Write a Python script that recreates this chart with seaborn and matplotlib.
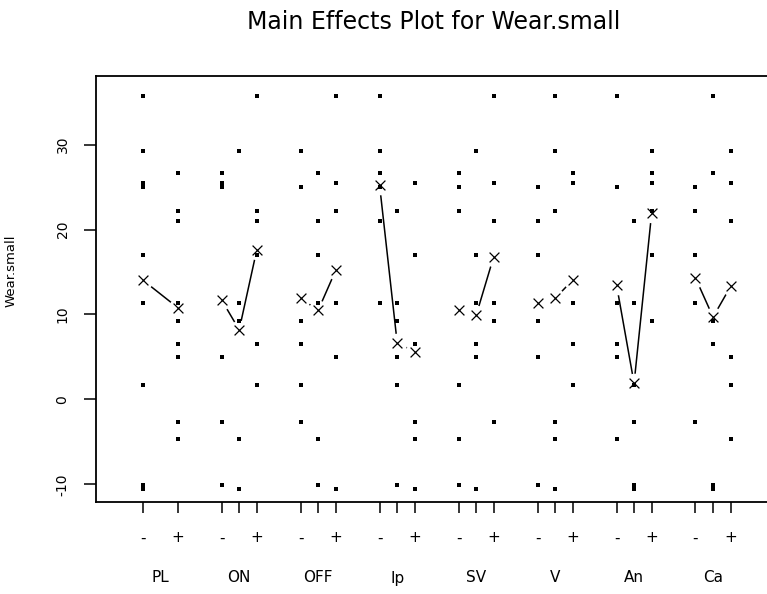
import numpy as np
import pandas as pd
import matplotlib
matplotlib.use("Agg")
import matplotlib.pyplot as plt
import seaborn as sns

# ---- data ----
factors = ["PL", "ON", "OFF", "Ip", "SV", "V", "An", "Ca"]
level_labels = ["-", "", "+"]

# 18 observed responses (Wear.small)
wear = [35.7, 29.2, 25.5, 25.0, 17.0, 11.3, 1.7, -10.1, -10.5,
        26.7, 22.2, 21.0, 11.3, 9.2, 6.5, 5.0, -2.7, -4.6]

# level code of each run for each factor (0 = "-", 1 = middle, 2 = "+")
PL  = [0, 0, 0, 0, 0, 0, 0, 0, 0, 2, 2, 2, 2, 2, 2, 2, 2, 2]
ON  = [2, 1, 0, 0, 2, 1, 2, 0, 1, 0, 2, 2, 1, 1, 2, 0, 0, 1]
OFF = [2, 0, 2, 0, 1, 1, 0, 1, 2, 1, 2, 1, 2, 0, 0, 2, 0, 1]
Ip  = [0, 0, 2, 0, 2, 0, 1, 1, 2, 0, 1, 0, 1, 1, 2, 1, 2, 2]
SV  = [2, 1, 2, 0, 1, 1, 0, 0, 1, 0, 0, 2, 2, 2, 1, 1, 2, 0]
V   = [1, 1, 2, 0, 0, 2, 2, 0, 1, 2, 1, 0, 2, 0, 2, 0, 1, 1]
An  = [0, 2, 2, 0, 2, 0, 1, 1, 1, 2, 2, 1, 1, 2, 0, 0, 1, 0]
Ca  = [1, 2, 2, 0, 0, 0, 2, 1, 1, 1, 0, 2, 0, 1, 1, 2, 0, 2]

# level means as plotted (x markers)
mean_PL  = [14.06, None, 10.8]
mean_ON  = [11.7, 8.2, 17.6]
mean_OFF = [11.9, 10.5, 15.2]
mean_Ip  = [25.2, 6.7, 5.6]
mean_SV  = [10.5, 9.9, 16.8]
mean_V   = [11.3, 11.9, 14.05]
mean_An  = [13.5, 1.9, 21.9]
mean_Ca  = [14.3, 9.7, 13.3]

design = dict(PL=PL, ON=ON, OFF=OFF, Ip=Ip, SV=SV, V=V, An=An, Ca=Ca)
means = dict(PL=mean_PL, ON=mean_ON, OFF=mean_OFF, Ip=mean_Ip,
             SV=mean_SV, V=mean_V, An=mean_An, Ca=mean_Ca)

GROUP_STEP = 4.5

rows, mrows, ticks = [], [], []
for g, f in enumerate(factors):
    for code, y in zip(design[f], wear):
        rows.append(dict(factor=f, pos=g * GROUP_STEP + code, wear=y))
    for code, m in enumerate(means[f]):
        if m is not None:
            mrows.append(dict(factor=f, pos=g * GROUP_STEP + code, mean=m))
            ticks.append((g * GROUP_STEP + code, level_labels[code]))
df = pd.DataFrame(rows)
mdf = pd.DataFrame(mrows)

# ---- figure ----
sns.set_style("white")
plt.rcParams["font.family"] = ["DejaVu Sans"]
plt.rcParams["text.color"] = "black"
plt.rcParams["axes.labelcolor"] = "black"
plt.rcParams["xtick.color"] = "black"
plt.rcParams["ytick.color"] = "black"

W, H = 767, 594
fig = plt.figure(figsize=(W / 100, H / 100), dpi=100)
ax = fig.add_axes([96 / W, 1 - 502 / H, (775 - 96) / W, (502 - 76) / H])

# lines between level means
sns.lineplot(data=mdf, x="pos", y="mean", units="factor", estimator=None,
             sort=False, color="black", lw=1.1, ax=ax, legend=False)
# white gap around mean points (type "b" look)
sns.scatterplot(data=mdf, x="pos", y="mean", marker="o", s=200,
                color="white", linewidth=0, ax=ax, legend=False, zorder=3)
# raw data dots
sns.scatterplot(data=df, x="pos", y="wear", marker="s", s=6,
                color="black", linewidth=0, ax=ax, legend=False, zorder=4)
# level means
sns.scatterplot(data=mdf, x="pos", y="mean", marker="x", s=50,
                color="black", linewidth=0.9, ax=ax, legend=False, zorder=5)

ax.set_xlim(-2.66, 36.03)
ax.set_ylim(-12.06, 38.06)

# y axis
ax.set_yticks([-10, 0, 10, 20, 30])
ax.set_yticklabels(["-10", "0", "10", "20", "30"], rotation=90, va="center",
                   color="black")
ax.tick_params(axis="y", direction="out", length=9, width=1.1, pad=10,
               labelsize=10, left=True, color="black", labelcolor="black")
ax.set_ylabel("Wear.small", fontsize=9.5, color="black")
ax.yaxis.set_label_coords(-(96 - 17.5) / (775 - 96), (502 - 271) / (502 - 76))

# x axis
ax.set_xticks([p for p, _ in ticks])
ax.set_xticklabels([""] * len(ticks))
ax.tick_params(axis="x", direction="out", length=8, width=1.1, bottom=True,
               color="black")
ax.set_xlabel("")
xt = ax.get_xaxis_transform()
for p, lab in ticks:
    if lab:
        ax.text(p, -(538 - 502) / (502 - 76), lab, transform=xt,
                ha="center", va="center", fontsize=11, color="black")
for g, f in enumerate(factors):
    ax.text(g * GROUP_STEP + 1, -(578 - 502) / (502 - 76), f, transform=xt,
            ha="center", va="center", fontsize=11, color="black")

for s in ["left", "top", "bottom"]:
    ax.spines[s].set_linewidth(1.3)
    ax.spines[s].set_color("black")
ax.spines["right"].set_visible(False)

fig.text(434 / W, 1 - 22 / H, "Main Effects Plot for Wear.small",
         ha="center", va="center", fontsize=17, color="black")

fig.savefig("out.png", dpi=100, facecolor="white")
